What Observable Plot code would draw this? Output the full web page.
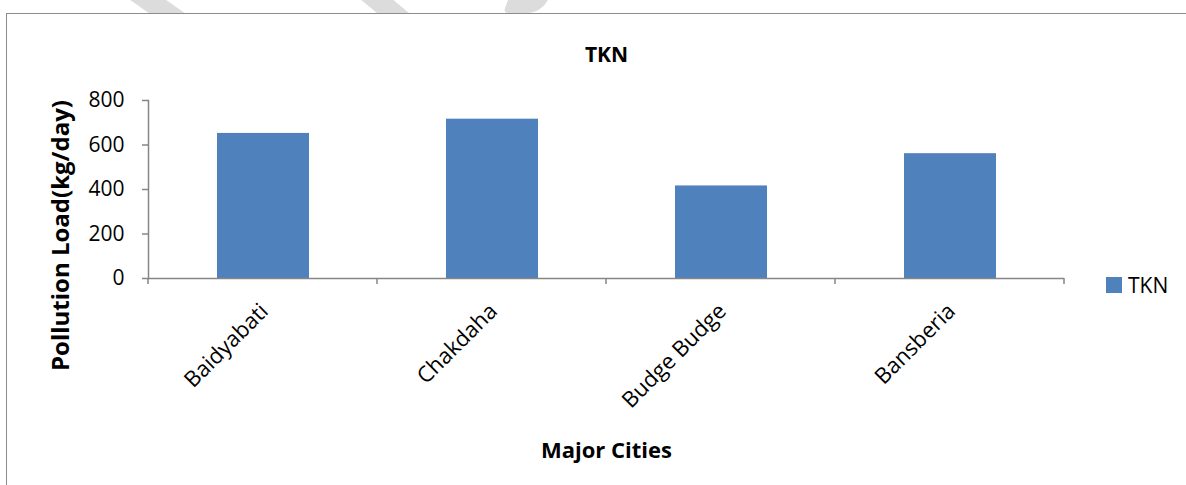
<!DOCTYPE html>
<html>
<head>
<meta charset="utf-8">
<script src="https://cdn.jsdelivr.net/npm/d3@7"></script>
<script src="https://cdn.jsdelivr.net/npm/@observablehq/plot@0.6"></script>
<style>
  html, body { margin: 0; padding: 0; background: #fff; }
  #wrap { position: relative; width: 1186px; height: 485px; overflow: hidden; font-family: "Open Sans", sans-serif; }
  .stripe { position: absolute; top: -2px; height: 15px; background: #dcdcdc; }
  #frame { position: absolute; left: 6px; top: 13px; width: 1300px; height: 600px; border: 1.5px solid #8c8c8c; background: #fff; }
  #chart { position: absolute; left: 0; top: 0; }
  #legend { position: absolute; left: 1106px; top: 271px; display: flex; align-items: center; font-size: 21px; color: #000; }
  #legend .sw { width: 16px; height: 16px; background: #4F81BD; margin-right: 6px; }
</style>
</head>
<body>
<div id="wrap">
  <div class="stripe" style="left:138px;width:36px;transform:skewX(55deg);"></div>
  <div class="stripe" style="left:368px;width:32px;transform:skewX(50deg);"></div>
  <div class="stripe" style="left:506px;width:40px;transform:skewX(-20deg);border-radius:0 0 20px 6px;"></div>
  <div id="frame"></div>
  <div id="chart"></div>
  <div id="legend"><div class="sw"></div><span>TKN</span></div>
</div>
<script>
// TKN pollution load by city
const cities = ["Baidyabati", "Chakdaha", "Budge Budge", "Bansberia"];
const tknLoad = [652, 716, 416, 561];
const yTicks = [0, 200, 400, 600, 800];
const title = "TKN";
const xTitle = "Major Cities";
const yTitle = "Pollution Load(kg/day)";

const rows = cities.map((city, i) => ({city, value: tknLoad[i]}));
const axisGray = "#868686";

// small tick marks at the boundaries between category bands
function bandBoundaryTicks(index, scales, values, dims) {
  const n = cities.length;
  const x0 = dims.marginLeft, x1 = dims.width - dims.marginRight;
  const yb = dims.height - dims.marginBottom;
  const g = d3.create("svg:g").attr("stroke", axisGray).attr("stroke-width", 1.5);
  for (let k = 0; k <= n; k++) {
    const x = x0 + (k * (x1 - x0)) / n;
    g.append("line").attr("x1", x).attr("x2", x).attr("y1", yb).attr("y2", yb + 6);
  }
  return g.node();
}

const chart = Plot.plot({
  width: 1186,
  height: 485,
  marginLeft: 148,
  marginRight: 122,
  marginTop: 100,
  marginBottom: 207,
  style: {background: "transparent", fontFamily: "'Open Sans', sans-serif", color: "#000"},
  x: {domain: cities, paddingInner: 0.6, paddingOuter: 0.3, axis: null},
  y: {domain: [0, 800], axis: null},
  marks: [
    Plot.barY(rows, {x: "city", y: "value", fill: "#4F81BD"}),
    Plot.axisY({ticks: yTicks, tickSize: 6, tickPadding: 18, fontSize: 21, stroke: axisGray, strokeWidth: 1.5, fill: "#000", label: null}),
    Plot.frame({anchor: "left", stroke: axisGray, strokeWidth: 1.5}),
    Plot.ruleY([0], {stroke: axisGray, strokeWidth: 1.5}),
    bandBoundaryTicks,
    Plot.text(rows, {x: "city", text: "city", frameAnchor: "bottom", rotate: -45, textAnchor: "end", lineAnchor: "top", dx: -5, dy: 23, fontSize: 22, fill: "#000"}),
    Plot.text([title], {frameAnchor: "top", dy: -53, fontSize: 21, fontWeight: "bold", fill: "#000"}),
    Plot.text([xTitle], {frameAnchor: "bottom", dy: 179, fontSize: 22, fontWeight: "bold", fill: "#000"}),
    Plot.text([yTitle], {frameAnchor: "left", textAnchor: "middle", rotate: -90, dx: -87, dy: 46, fontSize: 24, fontWeight: "bold", fill: "#000"})
  ]
});
document.getElementById("chart").append(chart);
</script>
</body>
</html>
